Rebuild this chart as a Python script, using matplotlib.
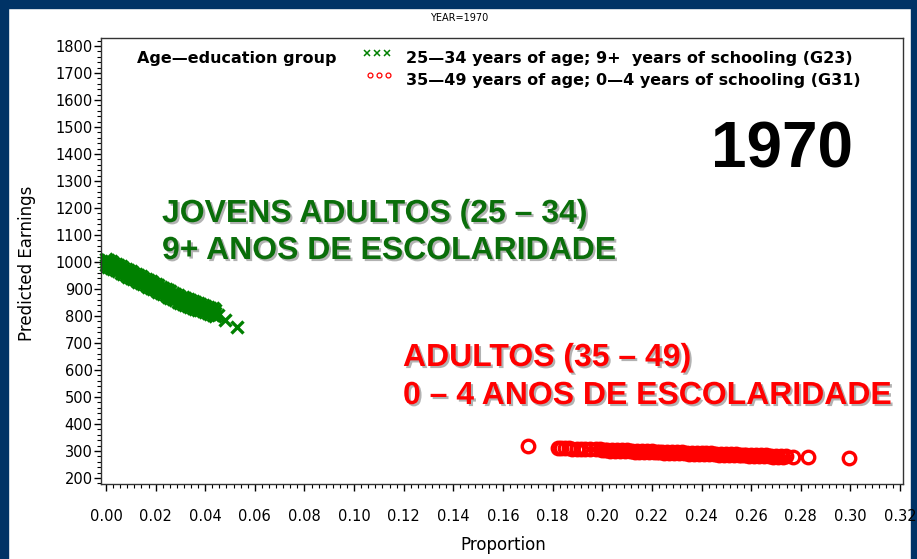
import matplotlib
matplotlib.use('Agg')
import matplotlib.pyplot as plt
import matplotlib.patheffects as pe
from matplotlib.lines import Line2D
from matplotlib.patches import Rectangle
from matplotlib.ticker import MultipleLocator, AutoMinorLocator

# 25-34 years of age; 9+ years of schooling (G23): dense band, read as three rows
g23_prop = [0.000, 0.001, 0.002, 0.003, 0.004, 0.005, 0.006, 0.007, 0.008, 0.009,
            0.010, 0.011, 0.012, 0.013, 0.014, 0.015, 0.016, 0.017, 0.018, 0.019,
            0.020, 0.021, 0.022, 0.023, 0.024, 0.025, 0.026, 0.027, 0.028, 0.029,
            0.030, 0.031, 0.032, 0.033, 0.034, 0.035, 0.036, 0.037, 0.038, 0.039,
            0.040, 0.041, 0.042, 0.043, 0.044]
g23_earn_hi = [1012, 1007, 1003, 998, 993, 989, 984, 979, 975, 970,
               965, 961, 956, 951, 947, 942, 937, 933, 928, 923,
               919, 914, 909, 905, 900, 896, 891, 887, 882, 877,
               872, 869, 865, 862, 858, 855, 851, 848, 845, 841,
               838, 834, 831, 828, 824]
g23_earn_mid = [1000, 995, 991, 986, 981, 977, 972, 967, 963, 958,
                953, 949, 944, 939, 935, 930, 925, 921, 916, 911,
                907, 902, 897, 893, 888, 884, 879, 875, 870, 865,
                860, 857, 853, 850, 846, 843, 839, 836, 833, 829,
                826, 822, 819, 816, 812]
g23_earn_lo = [988, 983, 979, 974, 969, 965, 960, 955, 951, 946,
               941, 937, 932, 927, 923, 918, 913, 909, 904, 899,
               895, 890, 885, 881, 876, 872, 867, 863, 858, 853,
               848, 845, 841, 838, 834, 831, 827, 824, 821, 817,
               814, 810, 807, 804, 800]
# scattered G23 points outside the band
g23_out_prop = [0.0326, 0.035, 0.045, 0.048, 0.0528]
g23_out_earn = [858, 852, 805, 786, 760]

# 35-49 years of age; 0-4 years of schooling (G31)
g31_prop = [0.170, 0.182, 0.1835, 0.185, 0.1865, 0.188, 0.190, 0.1915, 0.193, 0.195,
            0.1975, 0.199,
            0.200, 0.202, 0.204, 0.206, 0.208, 0.210, 0.212, 0.214, 0.216, 0.218,
            0.220, 0.222, 0.224, 0.226, 0.228, 0.230, 0.232, 0.234, 0.236, 0.238,
            0.240, 0.242, 0.244, 0.246, 0.248, 0.250, 0.252, 0.254, 0.256, 0.258,
            0.260, 0.262, 0.264, 0.266, 0.268, 0.270, 0.272, 0.274,
            0.201, 0.203, 0.205, 0.207, 0.209, 0.211, 0.213, 0.215, 0.217, 0.219,
            0.221, 0.223, 0.225, 0.227, 0.229, 0.231, 0.233, 0.235, 0.237, 0.239,
            0.241, 0.243, 0.245, 0.247, 0.249, 0.251, 0.253, 0.255, 0.257, 0.259,
            0.261, 0.263, 0.265, 0.267, 0.269, 0.271, 0.273,
            0.277, 0.283, 0.2995]
g31_earn = [318, 311, 312, 310, 311, 309, 309, 308, 307, 308,
            307, 306,
            305.5, 305, 304, 303.5, 303, 302, 301.5, 301, 300, 299.5,
            299, 298, 297.5, 297, 296, 295.5, 295, 294, 293.5, 293,
            292, 291.5, 291, 290, 289.5, 289, 288, 287.5, 287, 286,
            285.5, 285, 284, 283.5, 283, 282, 281.5, 281,
            302, 301.5, 300.5, 300, 299.5, 298.5, 298, 297.5, 296.5, 296,
            295.5, 294.5, 294, 293.5, 292.5, 292, 291.5, 290.5, 290, 289.5,
            288.5, 288, 287.5, 286.5, 286, 285.5, 284.5, 284, 283.5, 282.5,
            282, 281.5, 280.5, 280, 279.5, 278.5, 278,
            277, 277, 274]

x_ticks = [0.00, 0.02, 0.04, 0.06, 0.08, 0.10, 0.12, 0.14, 0.16,
           0.18, 0.20, 0.22, 0.24, 0.26, 0.28, 0.30, 0.32]
y_ticks = list(range(200, 1801, 100))

W, H = 917, 559


def fx(px):
  return px / W


def fy(py):
  return 1 - py / H


fig = plt.figure(figsize=(W / 100, H / 100), dpi=100)
fig.patch.set_facecolor('white')

navy = '#003366'
fig.add_artist(Rectangle((0, 0), fx(8), 1, transform=fig.transFigure, color=navy, zorder=0))
fig.add_artist(Rectangle((0, fy(8)), 1, 8 / H, transform=fig.transFigure, color=navy, zorder=0))
fig.add_artist(Rectangle((fx(911), 0), 6 / W, 1, transform=fig.transFigure, color=navy, zorder=0))

ax = fig.add_axes([fx(101), fy(484), fx(903) - fx(101), fy(38) - fy(484)])

green_style = dict(linestyle='none', marker='x', markersize=9, markeredgewidth=2.4,
                   color='#008000', clip_on=False)
for earn in (g23_earn_hi, g23_earn_lo, g23_earn_mid):
  ax.plot(g23_prop, earn, **green_style)
ax.plot(g23_out_prop, g23_out_earn, **green_style)

ax.plot(g31_prop, g31_earn, linestyle='none', marker='o', markersize=9,
        markeredgewidth=2.4, markerfacecolor='none', markeredgecolor='#ff0000', clip_on=False)

ax.set_xlim(-0.002, 0.3212)
ax.set_ylim(177.8, 1829.6)
ax.set_xticks(x_ticks)
ax.set_xticklabels([f'{v:.2f}' for v in x_ticks])
ax.set_yticks(y_ticks)
ax.xaxis.set_minor_locator(AutoMinorLocator(7))
ax.yaxis.set_minor_locator(AutoMinorLocator(5))

ax.tick_params(which='major', direction='out', length=5, width=1, labelsize=10.5, colors='black')
ax.tick_params(which='minor', direction='out', length=3, width=0.8)
ax.tick_params(axis='x', which='major', pad=13)
ax.tick_params(axis='y', which='major', pad=1)
for s in ax.spines.values():
  s.set_linewidth(1)
  s.set_color('#333333')

fig.text(fx(459), fy(18), 'YEAR=1970', fontsize=7, ha='center', va='center')
fig.text(fx(27), fy(263), 'Predicted Earnings', rotation=90, fontsize=12, ha='center', va='center')
fig.text(fx(503), fy(545), 'Proportion', fontsize=12, ha='center', va='center')

# legend
leg_font = dict(fontsize=11.5, fontweight='bold', ha='left', va='center')
fig.text(fx(137), fy(58), 'Age\u2014education group', **leg_font)
fig.add_artist(Line2D([fx(367), fx(377), fx(387)], [fy(53)] * 3, transform=fig.transFigure,
                      linestyle='none', marker='x', markersize=4, markeredgewidth=1.1, color='#008000'))
fig.add_artist(Line2D([fx(370), fx(379), fx(388)], [fy(75)] * 3, transform=fig.transFigure,
                      linestyle='none', marker='o', markersize=3.5, markeredgewidth=0.9,
                      markerfacecolor='none', markeredgecolor='#ff0000'))
fig.text(fx(406), fy(58), '25\u201434 years of age; 9+  years of schooling (G23)', **leg_font)
fig.text(fx(406), fy(80), '35\u201449 years of age; 0\u20144 years of schooling (G31)', **leg_font)

shadow = [pe.withSimplePatchShadow(offset=(1.5, -1.5), shadow_rgbFace='#7f7f7f', alpha=0.6)]
big = dict(family=['Liberation Sans', 'DejaVu Sans'], fontweight='bold')

fig.text(fx(782), fy(150), '1970', fontsize=46, ha='center', va='center', color='black', **big)
fig.text(fx(162), fy(214), 'JOVENS ADULTOS (25 \u2013 34)', fontsize=23, ha='left', va='center',
         color='#0a6e0a', path_effects=shadow, **big)
fig.text(fx(162), fy(251), '9+ ANOS DE ESCOLARIDADE', fontsize=23, ha='left', va='center',
         color='#0a6e0a', path_effects=shadow, **big)
fig.text(fx(403), fy(358), 'ADULTOS (35 \u2013 49)', fontsize=23, ha='left', va='center',
         color='#ff0000', path_effects=shadow, **big)
fig.text(fx(403), fy(396), '0 \u2013 4 ANOS DE ESCOLARIDADE', fontsize=23, ha='left', va='center',
         color='#ff0000', path_effects=shadow, **big)

fig.savefig('out.png', dpi=100)
